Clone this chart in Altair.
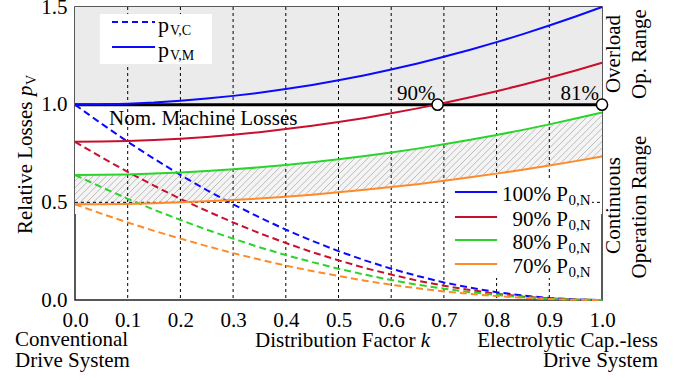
import altair as alt
import pandas as pd
import numpy as np

FONT = "Liberation Serif"

# ---------------- data ----------------
k = [0.00, 0.05, 0.10, 0.15, 0.20, 0.25, 0.30, 0.35, 0.40, 0.45, 0.50,
     0.55, 0.60, 0.65, 0.70, 0.75, 0.80, 0.85, 0.90, 0.95, 1.00]
loads = ["100%", "90%", "80%", "70%"]
colors = ["#0a0aff", "#c8102e", "#2ad42a", "#ff8a2a"]

# machine losses p_V,M (solid)
pvm_100 = [1.000, 1.001, 1.005, 1.011, 1.020, 1.031, 1.045, 1.061, 1.080, 1.101, 1.125,
           1.151, 1.180, 1.211, 1.245, 1.281, 1.320, 1.361, 1.405, 1.451, 1.500]
pvm_90 = [0.810, 0.811, 0.814, 0.819, 0.826, 0.835, 0.846, 0.859, 0.875, 0.892, 0.911,
          0.932, 0.956, 0.981, 1.008, 1.038, 1.069, 1.102, 1.138, 1.175, 1.215]
pvm_80 = [0.640, 0.641, 0.643, 0.647, 0.653, 0.660, 0.669, 0.679, 0.691, 0.705, 0.720,
          0.737, 0.755, 0.775, 0.797, 0.820, 0.845, 0.871, 0.899, 0.929, 0.960]
pvm_70 = [0.490, 0.490, 0.492, 0.495, 0.500, 0.505, 0.512, 0.520, 0.529, 0.539, 0.551,
          0.564, 0.578, 0.593, 0.610, 0.628, 0.647, 0.667, 0.688, 0.711, 0.735]
# capacitor losses p_V,C (dashed)
pvc_100 = [1.000, 0.903, 0.810, 0.723, 0.640, 0.563, 0.490, 0.423, 0.360, 0.303, 0.250,
           0.203, 0.160, 0.123, 0.090, 0.063, 0.040, 0.023, 0.010, 0.003, 0.000]
pvc_90 = [0.810, 0.731, 0.656, 0.585, 0.518, 0.456, 0.397, 0.342, 0.292, 0.245, 0.203,
          0.164, 0.130, 0.099, 0.073, 0.051, 0.032, 0.018, 0.008, 0.002, 0.000]
pvc_80 = [0.640, 0.578, 0.518, 0.462, 0.410, 0.360, 0.314, 0.270, 0.230, 0.194, 0.160,
          0.130, 0.102, 0.078, 0.058, 0.040, 0.026, 0.014, 0.006, 0.002, 0.000]
pvc_70 = [0.490, 0.442, 0.397, 0.354, 0.314, 0.276, 0.240, 0.207, 0.176, 0.148, 0.123,
          0.099, 0.078, 0.060, 0.044, 0.031, 0.020, 0.011, 0.005, 0.001, 0.000]

x_ticks = [0.0, 0.1, 0.2, 0.3, 0.4, 0.5, 0.6, 0.7, 0.8, 0.9, 1.0]
y_ticks = [0.0, 0.5, 1.0, 1.5]
grid_k = [0.1, 0.2, 0.3, 0.4, 0.5, 0.6, 0.7, 0.8, 0.9]
cross_k = [0.688, 1.0]
cross_v = [1.0, 1.0]
cross_lbl = ["90%", "81%"]

# ---------------- tables ----------------
m_df = pd.DataFrame({
    "k": k * 4,
    "v": pvm_100 + pvm_90 + pvm_80 + pvm_70,
    "load": sum([[l] * len(k) for l in loads], []),
})
c_df = pd.DataFrame({
    "k": k * 4,
    "v": pvc_100 + pvc_90 + pvc_80 + pvc_70,
    "load": sum([[l] * len(k) for l in loads], []),
})
band_df = pd.DataFrame({"k": k, "lo": pvm_70, "hi": pvm_80, "one": [1.0] * len(k),
                        "base": [0.44] * len(k)})

xs = alt.Scale(domain=[0, 1], nice=False, zero=False)
ys = alt.Scale(domain=[0, 1.5], nice=False, zero=False)
cs = alt.Scale(domain=loads, range=colors)

x_axis = alt.Axis(values=x_ticks, format=".1f", labelFont=FONT, labelFontSize=21,
                  labelColor="black", ticks=False, domain=False, grid=False, labelPadding=9,
                  title=None, labelFlush=False, labelOverlap=False)
y_axis = alt.Axis(values=y_ticks, format=".1f", labelFont=FONT, labelFontSize=21,
                  labelColor="black", ticks=False, domain=False, grid=False, labelPadding=8,
                  title=None, labelFlush=False, labelOverlap=False)


def X(f, **kw):
    return alt.X(f, type="quantitative", scale=xs, axis=x_axis, **kw)


def Y(f, **kw):
    return alt.Y(f, type="quantitative", scale=ys, axis=y_axis, **kw)


# overload background
over = alt.Chart(pd.DataFrame({"a": [0.0], "b": [1.0], "c": [1.0], "d": [1.5]})).mark_rect(
    color="#ebebeb").encode(x=X("a"), x2="b", y=Y("c"), y2="d")

# hatched continuous-operation band
band = alt.Chart(band_df).mark_area(color="#f4f4f4").encode(
    x=X("k"), y=Y("lo"), y2="hi")
slope = (527 / 1.0) / (293 / 1.5)
starts = np.arange(-0.25, 1.0, 0.0125)
hatch_df = pd.DataFrame({"x1": starts, "x2": starts + 0.56 / slope,
                         "y1": [0.44] * len(starts), "y2": [1.0] * len(starts)})
hatch = alt.Chart(hatch_df).mark_rule(color="#b4b4b4", strokeWidth=0.9, clip=True).encode(
    x=X("x1"), x2="x2", y=Y("y1"), y2="y2")
mask_top = alt.Chart(band_df).mark_area(color="white").encode(x=X("k"), y=Y("hi"), y2="one")
mask_bot = alt.Chart(band_df).mark_area(color="white").encode(x=X("k"), y=Y("base"), y2="lo")

# grid
vgrid = alt.Chart(pd.DataFrame({"k": grid_k})).mark_rule(
    color="black", strokeWidth=1, strokeDash=[3, 3]).encode(
    x=X("k"), y=alt.value(0), y2=alt.value(293))
hgrid = alt.Chart(pd.DataFrame({"v": [0.5]})).mark_rule(
    color="black", strokeWidth=1, strokeDash=[3, 3]).encode(
    y=Y("v"), x=alt.value(0), x2=alt.value(527))
nomline = alt.Chart(pd.DataFrame({"v": [1.0]})).mark_rule(
    color="black", strokeWidth=3).encode(y=Y("v"), x=alt.value(0), x2=alt.value(527))

# legend boxes
box_df = pd.DataFrame({"x1": [0.047, 0.708], "x2": [0.260, 0.981],
                       "y1": [1.208, 0.113], "y2": [1.464, 0.624]})
boxes = alt.Chart(box_df).mark_rect(color="white").encode(
    x=X("x1"), x2="x2", y=Y("y1"), y2="y2")

# curves
c_lines = alt.Chart(c_df).mark_line(strokeWidth=2, strokeDash=[7, 4]).encode(
    x=X("k"), y=Y("v"), color=alt.Color("load:N", scale=cs, legend=None),
    detail="load:N")
m_lines = alt.Chart(m_df).mark_line(strokeWidth=2).encode(
    x=X("k"), y=Y("v"), color=alt.Color("load:N", scale=cs, legend=None),
    detail="load:N")

# crossing markers
cross_df = pd.DataFrame({"k": cross_k, "v": cross_v, "lbl": cross_lbl,
                         "lk": [0.6475, 0.958]})
markers = alt.Chart(cross_df).mark_point(
    shape="circle", filled=True, fill="white", stroke="black", strokeWidth=1.5,
    size=125, opacity=1).encode(x=X("k"), y=Y("v"))
cross_txt = alt.Chart(cross_df).mark_text(
    font=FONT, fontSize=21, align="center", baseline="alphabetic", dy=-5,
    color="black").encode(x=X("lk"), y=Y("v"), text="lbl:N")

# top-left legend
tl_df = pd.DataFrame({"x1": [0.0702, 0.0702], "x2": [0.1518, 0.1518],
                      "y": [1.423, 1.295], "t": ["p", "p"], "s": ["V,C", "V,M"],
                      "xt": [0.1575, 0.1575]})
tl_dash = alt.Chart(tl_df.iloc[[0]]).mark_rule(
    color=colors[0], strokeWidth=2, strokeDash=[6, 4]).encode(x=X("x1"), x2="x2", y=Y("y"))
tl_solid = alt.Chart(tl_df.iloc[[1]]).mark_rule(
    color=colors[0], strokeWidth=2).encode(x=X("x1"), x2="x2", y=Y("y"))
tl_p = alt.Chart(tl_df).mark_text(font=FONT, fontSize=22, align="left",
                                  baseline="alphabetic", dy=10, color="black").encode(
    x=X("xt"), y=Y("y"), text="t:N")
tl_s = alt.Chart(tl_df).mark_text(font=FONT, fontSize=14, align="left",
                                  baseline="alphabetic", dx=12, dy=13, color="black").encode(
    x=X("xt"), y=Y("y"), text="s:N")

# lower-right legend
lr_df = pd.DataFrame({"load": loads, "x1": [0.721] * 4, "x2": [0.801] * 4,
                      "y": [0.553, 0.425, 0.307, 0.184],
                      "t": [l + " P" for l in loads], "s": ["0,N"] * 4,
                      "xt": [0.9355] * 4})
lr_lines = alt.Chart(lr_df).mark_rule(strokeWidth=2).encode(
    x=X("x1"), x2="x2", y=Y("y"), color=alt.Color("load:N", scale=cs, legend=None))
lr_t = alt.Chart(lr_df).mark_text(font=FONT, fontSize=21, align="right",
                                  baseline="alphabetic", dy=8.7, color="black").encode(
    x=X("xt"), y=Y("y"), text="t:N")
lr_s = alt.Chart(lr_df).mark_text(font=FONT, fontSize=15, align="left",
                                  baseline="alphabetic", dx=0.5, dy=13.2, color="black").encode(
    x=X("xt"), y=Y("y"), text="s:N")


def txt(x, y, s, size=21, align="left", angle=0, baseline="alphabetic", style="normal",
        dx=0, dy=0):
    kw = dict(font=FONT, fontSize=size, align=align, baseline=baseline, color="black",
              fontStyle=style, dx=dx, dy=dy)
    if angle:
        kw["angle"] = angle
    return alt.Chart(pd.DataFrame({"x": [x], "y": [y], "s": [s]})).mark_text(**kw).encode(
        x=X("x"), y=Y("y"), text="s:N")


texts = [
    txt(0.0645, 0.896, "Nom. Machine Losses"),
    # y title: "Relative Losses p_V"
    txt(-0.0816, 0.338, "Relative Losses", angle=270),
    txt(-0.0816, 0.338, "p", angle=270, style="italic", dx=138),
    txt(-0.0816, 0.338, "V", size=14, angle=270, dx=149, dy=4),
    # right-hand labels
    txt(1.0228, 1.2594, "Overload", angle=270, align="center", baseline="middle"),
    txt(1.0721, 1.2594, "Op. Range", angle=270, align="center", baseline="middle"),
    txt(1.0228, 0.484, "Continuous", angle=270, align="center", baseline="middle"),
    txt(1.0721, 0.476, "Operation Range", angle=270, align="center", baseline="middle"),
    # bottom labels
    txt(-0.1139, -0.2355, "Conventional"),
    txt(-0.1139, -0.343, "Drive System"),
    txt(0.6459, -0.2406, "Distribution Factor", align="right"),
    txt(0.6560, -0.2406, "k", style="italic"),
    txt(1.1063, -0.2406, "Electrolytic Cap.-less", align="right"),
    txt(1.1063, -0.343, "Drive System", align="right"),
]

chart = alt.layer(
    over, band, hatch, mask_top, mask_bot, vgrid, hgrid, nomline, boxes,
    c_lines, m_lines, markers, cross_txt,
    tl_dash, tl_solid, tl_p, tl_s, lr_lines, lr_t, lr_s, *texts
).properties(
    width=527, height=293,
    autosize=alt.AutoSizeParams(type="none"),
    padding={"left": 75, "top": 7, "right": 74, "bottom": 80},
).configure_view(stroke="#222222", strokeWidth=1.5)

chart.save("out.html", embed_options={"renderer": "svg", "actions": False})
